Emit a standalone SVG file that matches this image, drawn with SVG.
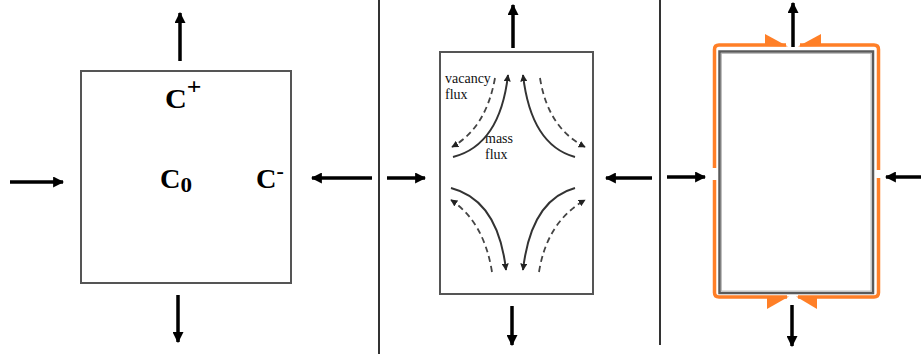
<svg xmlns="http://www.w3.org/2000/svg" width="921" height="354" viewBox="0 0 921 354">
<style>
.box{fill:#fff;stroke:#555;stroke-width:2}
.big{stroke:#000;stroke-width:3.5;fill:none;marker-end:url(#ah)}
.sol{stroke:#333;stroke-width:2;fill:none;marker-end:url(#sh)}
.dsh{stroke:#444;stroke-width:1.8;fill:none;stroke-dasharray:6 4;marker-end:url(#sh)}
.div{stroke:#333;stroke-width:2}
.ct{font-family:"Liberation Serif","Times New Roman",serif;font-weight:bold;font-size:27px;fill:#000}
.lbl{font-family:"Liberation Serif","Times New Roman",serif;font-size:14px;fill:#111}
.org{stroke:#ff7f27;stroke-width:3.5;fill:none}
</style>
<defs>
<marker id="ah" markerUnits="userSpaceOnUse" viewBox="0 0 10 10" markerWidth="11" markerHeight="11" refX="9" refY="5" orient="auto"><path d="M0,0 L10,5 L0,10 z" fill="#000"/></marker>
<marker id="sh" markerUnits="userSpaceOnUse" viewBox="0 0 10 10" markerWidth="7" markerHeight="7" refX="9" refY="5" orient="auto"><path d="M0,0 L10,5 L0,10 z" fill="#222"/></marker>
</defs>
<g id="dividers">
<line class="div" x1="379" y1="0" x2="379" y2="354"/>
<line class="div" x1="660" y1="0" x2="660" y2="345"/>
</g>
<g id="panel1">
<rect class="box" x="81" y="71" width="210" height="212"/>
<text class="ct" transform="translate(165,108) scale(1.12,1)">C<tspan font-size="23" dy="-14">+</tspan></text>
<text class="ct" transform="translate(160,188) scale(1.05,1)">C<tspan font-size="22" dy="4">0</tspan></text>
<text class="ct" transform="translate(256,188) scale(1.05,1)">C<tspan font-size="21" dy="-10">-</tspan></text>
</g>
<g id="panel2">
<rect class="box" x="440" y="52" width="153" height="242"/>
<text class="lbl" x="445" y="83">vacancy</text>
<text class="lbl" x="445" y="99">flux</text>
<text class="lbl" x="485" y="143">mass</text>
<text class="lbl" x="485" y="159">flux</text>
</g>
<g id="panel3">
<path class="org" d="M786,45 H719 Q714.5,45 714.5,49.5 V168"/>
<path class="org" d="M714.5,180 V292.5 Q714.5,297 719,297 H787"/>
<path class="org" d="M800,45 H874 Q878.5,45 878.5,49.5 V170"/>
<path class="org" d="M878.5,178 V292.5 Q878.5,297 874,297 H798"/>
<path d="M765,34 L765,46 L788,46.5 z" fill="#ff7f27"/>
<path d="M821,34 L821,46 L798,46.5 z" fill="#ff7f27"/>
<path d="M767,309 L767,297 L789,296.5 z" fill="#ff7f27"/>
<path d="M817,309 L817,297 L796,296.5 z" fill="#ff7f27"/>
<rect x="719.5" y="51.5" width="153.5" height="241.5" fill="#fff" stroke="#5a5a5a" stroke-width="2.5"/>
<rect x="721.5" y="53.5" width="149.5" height="237.5" fill="none" stroke="#b0b0b0" stroke-width="0.8"/>
</g>
<g id="connectors">
<line class="big" x1="180" y1="61" x2="180" y2="13"/>
<line class="big" x1="178" y1="295" x2="178" y2="342"/>
<line class="big" x1="10" y1="182" x2="63" y2="182"/>
<line class="big" x1="372" y1="178" x2="312" y2="178"/>
<line class="big" x1="513" y1="48" x2="513" y2="5"/>
<line class="big" x1="512" y1="306" x2="512" y2="345"/>
<line class="big" x1="387" y1="178" x2="425" y2="178"/>
<line class="big" x1="652" y1="178" x2="606" y2="178"/>
<line class="big" x1="793" y1="47" x2="793" y2="3"/>
<line class="big" x1="792" y1="305" x2="792" y2="346"/>
<line class="big" x1="667" y1="177" x2="705" y2="177"/>
<line class="big" x1="921" y1="177" x2="886" y2="177"/>
<path class="sol" d="M453,157 Q500,145 508,75"/>
<path class="dsh" d="M495,78 Q486,128 452,147"/>
<path class="sol" d="M575,157 Q531,145 523,75"/>
<path class="dsh" d="M540,78 Q548,128 585,147"/>
<path class="sol" d="M451,188 Q498,200 506,270"/>
<path class="dsh" d="M492,272 Q484,222 451,200"/>
<path class="sol" d="M575,188 Q531,200 523,270"/>
<path class="dsh" d="M539,272 Q547,222 585,200"/>
</g>
</svg>
